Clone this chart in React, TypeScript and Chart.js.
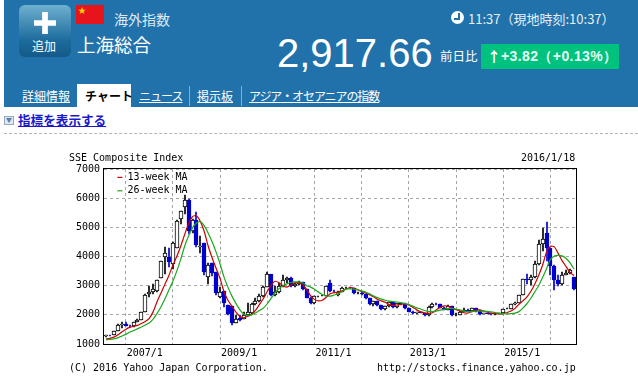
import React, { useEffect, useRef } from "react";
import { Chart, registerables } from "chart.js";

Chart.register(...registerables);

// Monthly candles, 2006/2 .. 2016/1
const opens = [
  1258, 1299, 1298, 1440, 1642, 1672, 1612, 1601, 1752, 1837, 2099,
  2700, 2790, 2820, 3250, 3970, 4000, 3750, 4300, 5300, 5700, 5954, 4871,
  5265, 4320, 4450, 3300, 3770, 3460, 2620, 2820, 2330, 2293, 1720, 1880,
  1860, 1990, 2050, 2373, 2477, 2632, 2959, 3412, 2667, 2779, 2996, 3195,
  3277, 2989, 3051, 3109, 2870, 2592, 2398, 2637, 2638, 2655, 3100, 2820,
  2680, 2790, 2905, 2928, 2911, 2743, 2762, 2701, 2567, 2359, 2468, 2333,
  2199, 2292, 2428, 2262, 2396, 2372, 2225, 2103, 2047, 2086, 2068, 1980,
  2269, 2385, 2359, 2236, 2177, 2300, 1979, 1993, 2098, 2174, 2141, 2220,
  2116, 2033, 2056, 2033, 2026, 2039, 2048, 2201, 2217, 2363, 2420, 2682,
  3234, 3210, 3310, 3747, 4441, 4800, 4277, 3663, 3205, 3052, 3382, 3445, 3290,
];
const highs = [
  1306, 1320, 1445, 1693, 1757, 1758, 1660, 1762, 1841, 2100, 2698,
  2995, 3050, 3190, 3850, 4335, 4300, 4490, 5260, 5570, 6124, 5955, 5300,
  5522, 4695, 4473, 3786, 3786, 3460, 2952, 2830, 2333, 2300, 2010, 2000,
  2090, 2400, 2400, 2580, 2700, 2980, 3478, 3200, 2990, 3080, 3360, 3300,
  3300, 3100, 3150, 3130, 2890, 2610, 2650, 2660, 2680, 3000, 3180, 2850,
  2830, 2940, 2960, 2960, 2920, 2790, 2780, 2720, 2590, 2490, 2490, 2350,
  2320, 2450, 2440, 2420, 2410, 2390, 2240, 2120, 2110, 2100, 2080, 2290,
  2410, 2410, 2380, 2260, 2330, 2320, 2060, 2120, 2240, 2200, 2240, 2240,
  2150, 2080, 2070, 2050, 2050, 2060, 2210, 2230, 2380, 2440, 2690, 3240,
  3410, 3370, 3840, 4570, 4980, 5178, 4300, 3720, 3370, 3480, 3530, 3560, 3300,
];
const lows = [
  1236, 1259, 1295, 1440, 1541, 1605, 1580, 1598, 1745, 1820, 2099,
  2615, 2700, 2800, 3250, 3400, 3650, 3560, 4300, 5100, 5462, 4778, 4812,
  4330, 4123, 3357, 3060, 3333, 2695, 2566, 2284, 1990, 1665, 1720, 1800,
  1850, 1960, 2040, 2340, 2450, 2620, 2950, 2640, 2640, 2740, 2960, 3080,
  2960, 2970, 3030, 2860, 2580, 2380, 2380, 2620, 2630, 2640, 2780, 2780,
  2660, 2770, 2890, 2890, 2720, 2720, 2690, 2530, 2330, 2320, 2310, 2170,
  2170, 2270, 2250, 2250, 2350, 2210, 2090, 2030, 2030, 2050, 1960, 1960,
  2250, 2340, 2220, 2160, 2150, 1960, 1960, 1980, 2090, 2120, 2120, 2090,
  2000, 2020, 2020, 2010, 2010, 2030, 2040, 2190, 2200, 2350, 2400, 2670,
  3060, 3040, 3280, 3720, 4190, 3850, 3370, 2850, 2980, 3040, 3360, 3410, 2860,
];
const closes = [
  1299, 1298, 1440, 1642, 1672, 1612, 1601, 1752, 1837, 2099, 2675,
  2786, 2881, 3183, 3841, 4109, 3820, 4471, 5218, 5552, 5954, 4871, 5261,
  4383, 4348, 3472, 3693, 3433, 2736, 2775, 2397, 2030, 1728, 1871, 1820,
  1990, 2082, 2373, 2477, 2632, 2959, 3412, 2667, 2779, 2996, 3195, 3277,
  2989, 3051, 3109, 2870, 2592, 2398, 2637, 2638, 2655, 2979, 2820, 2808,
  2790, 2905, 2928, 2911, 2743, 2762, 2701, 2567, 2359, 2468, 2333, 2199,
  2292, 2428, 2262, 2396, 2372, 2225, 2103, 2047, 2086, 2068, 1980, 2269,
  2385, 2359, 2236, 2177, 2300, 1979, 1993, 2098, 2174, 2141, 2220, 2116,
  2033, 2056, 2033, 2026, 2039, 2048, 2201, 2217, 2363, 2420, 2682, 3234,
  3210, 3310, 3747, 4441, 4611, 4277, 3663, 3205, 3052, 3382, 3445, 3539, 2900,
];
const ma13 = [
  1170, 1195, 1235, 1310, 1410, 1500, 1570, 1610, 1640, 1700, 1770,
  1880, 2110, 2450, 2750, 3050, 3350, 3700, 4000, 4350, 4750, 5120, 5370,
  5400, 5200, 4850, 4350, 3950, 3600, 3250, 2800, 2500, 2300, 2100, 1950,
  1900, 1950, 2000, 2150, 2350, 2550, 2800, 3020, 3150, 3100, 3000, 2950,
  3020, 3100, 3090, 3030, 2870, 2660, 2530, 2480, 2500, 2600, 2720, 2760,
  2780, 2820, 2880, 2930, 2920, 2860, 2800, 2750, 2690, 2620, 2530, 2480,
  2430, 2350, 2320, 2340, 2370, 2370, 2340, 2260, 2170, 2100, 2070, 2050,
  2070, 2170, 2260, 2310, 2290, 2230, 2180, 2130, 2070, 2060, 2110, 2160,
  2170, 2130, 2090, 2050, 2040, 2035, 2040, 2080, 2130, 2220, 2360, 2480,
  2610, 2800, 3050, 3350, 3700, 4150, 4350, 4330, 4100, 3850, 3650, 3450, 3350,
];
const ma26 = [
  1150, 1160, 1175, 1210, 1270, 1330, 1400, 1460, 1520, 1580, 1650,
  1720, 1850, 2050, 2280, 2550, 2850, 3150, 3500, 3900, 4350, 4700, 4980,
  5150, 5200, 5050, 4800, 4500, 4150, 3750, 3300, 2950, 2650, 2400, 2180,
  2030, 1980, 2000, 2060, 2150, 2230, 2380, 2570, 2750, 2900, 3000, 3060,
  3110, 3130, 3130, 3100, 3000, 2950, 2880, 2780, 2700, 2650, 2640, 2680,
  2720, 2800, 2880, 2900, 2880, 2860, 2820, 2780, 2720, 2650, 2590, 2540,
  2500, 2470, 2450, 2440, 2420, 2390, 2350, 2300, 2240, 2200, 2150, 2110,
  2110, 2130, 2160, 2190, 2210, 2220, 2200, 2170, 2130, 2110, 2110, 2130,
  2130, 2130, 2120, 2100, 2080, 2050, 2040, 2030, 2040, 2060, 2110, 2230,
  2380, 2560, 2780, 3000, 3280, 3580, 3900, 4020, 4040, 4020, 3930, 3780, 3570,
];
const januaryPositions = [11, 23, 35, 47, 59, 71, 83, 95, 107];
const januaryLabels = ["2007/1", "", "2009/1", "", "2011/1", "", "2013/1", "", "2015/1"];
const priceTicks = [1000, 2000, 3000, 4000, 5000, 6000, 7000];

const MONO = '"DejaVu Sans Mono", monospace';
const JP = '"Noto Sans CJK JP", sans-serif';
const BLUE = "#0000cc";
const BAR = "#2172ab";

const frame = {
  id: "frame",
  afterLayout(chart: any) {
    // keep the legend inside the plot, near its top-left corner
    const lg = chart.legend;
    const dy = chart.chartArea.top;
    const dx = 10;
    lg.top = dy;
    lg.left = chart.chartArea.left + dx;
    if (lg.legendHitBoxes) {
      lg.legendHitBoxes.forEach((b: any) => {
        b.top += dy;
      });
    }
  },
  afterDatasetsUpdate(chart: any) {
    // snap candle rectangles to whole pixels so they stay crisp
    chart.data.datasets.forEach((d: any, i: number) => {
      if (d.type === "line") return;
      chart.getDatasetMeta(i).data.forEach((el: any) => {
        el.x = Math.round(el.x);
        el.y = Math.round(el.y);
        el.base = Math.round(el.base);
      });
    });
  },
  afterDatasetsDraw(chart: any) {
    const { left, top, width, height } = chart.chartArea;
    const c = chart.ctx;
    c.save();
    c.strokeStyle = "#000";
    c.lineWidth = 1;
    c.strokeRect(Math.round(left) - 0.5, Math.round(top) - 0.5, Math.round(width) + 1, Math.round(height) + 1);
    c.restore();
  },
};

function ChartCanvas() {
  const ref = useRef<HTMLCanvasElement>(null);
  useEffect(() => {
    const up = closes.map((c, i) => c >= opens[i]);
    const chart = new Chart(ref.current!, {
      type: "bar",
      data: {
        datasets: [
          {
            type: "line",
            label: "13-week MA",
            data: ma13.map((y, x) => ({ x, y })),
            borderColor: "#cc0000",
            backgroundColor: "#cc0000",
            borderWidth: 1.2,
            pointRadius: 0,
            tension: 0.2,
            order: 1,
          },
          {
            type: "line",
            label: "26-week MA",
            data: ma26.map((y, x) => ({ x, y })),
            borderColor: "#1ca81c",
            backgroundColor: "#1ca81c",
            borderWidth: 1.2,
            pointRadius: 0,
            tension: 0.2,
            order: 0,
          },
          {
            label: "body",
            data: opens.map((o, x) => ({ x, y: [o, closes[x]] })),
            backgroundColor: up.map((u) => (u ? "#ffffff" : BLUE)),
            borderColor: up.map((u) => (u ? "#000000" : BLUE)),
            borderWidth: 1,
            borderSkipped: false,
            barThickness: 4,
            grouped: false,
            order: 2,
          },
          {
            label: "wick",
            data: lows.map((l, x) => ({ x, y: [l, highs[x]] })),
            backgroundColor: up.map((u) => (u ? "#000000" : BLUE)),
            borderWidth: 0,
            barThickness: 1,
            grouped: false,
            order: 3,
          },
        ] as any,
      },
      options: {
        responsive: false,
        animation: false,
        layout: { padding: { left: 60, right: 62, top: 29, bottom: 0 } },
        plugins: {
          title: { display: false },
          tooltip: { enabled: false },
          legend: {
            position: "chartArea" as any,
            align: "start",
            labels: {
              filter: (item: any) => item.text.includes("MA"),
              sort: (a: any, b: any) => a.datasetIndex - b.datasetIndex,
              usePointStyle: true,
              pointStyle: "line",
              pointStyleWidth: 5,
              boxHeight: 3,
              padding: 3.4,
              color: "#000",
              font: { family: MONO, size: 10 },
            },
          },
        },
        scales: {
          x: {
            type: "linear",
            min: -0.5,
            max: 119.5,
            offset: false,
            afterBuildTicks: (s: any) => {
              s.ticks = januaryPositions.map((value) => ({ value }));
            },
            afterFit: (s: any) => {
              s.height = 32;
            },
            grid: { color: "#a6a6a6", tickLength: 0, drawTicks: false },
            border: { display: false, dash: [3, 3] },
            ticks: {
              autoSkip: false,
              maxRotation: 0,
              padding: 3,
              labelOffset: -4.5,
              color: "#000",
              font: { family: MONO, size: 10 },
              callback: (v: any) => januaryLabels[januaryPositions.indexOf(v)] ?? "",
            },
          },
          y: {
            min: 1000,
            max: 7000,
            afterBuildTicks: (s: any) => {
              s.ticks = priceTicks.map((value) => ({ value }));
            },
            afterFit: (s: any) => {
              s.width = 44;
            },
            grid: { color: "#a6a6a6", drawTicks: false },
            border: { display: false, dash: [3, 3] },
            ticks: {
              padding: 4,
              color: "#000",
              font: { family: MONO, size: 10 },
              callback: (v: any) => String(v),
            },
          },
        },
      } as any,
      plugins: [frame],
    });
    return () => chart.destroy();
  }, []);
  return (
    <canvas
      ref={ref}
      width={638}
      height={236}
      style={{ position: "absolute", left: 0, top: 140, width: 638, height: 236 }}
    />
  );
}

const abs = (left: number, top: number, extra: React.CSSProperties = {}): React.CSSProperties => ({
  position: "absolute",
  left,
  top,
  whiteSpace: "nowrap",
  ...extra,
});

const tabLink: React.CSSProperties = {
  color: "#fff",
  fontSize: 12,
  lineHeight: "16px",
  textDecoration: "underline",
  fontFamily: JP,
};

export default function App() {
  return (
    <div
      style={{
        position: "fixed",
        left: 0,
        top: 0,
        width: 638,
        height: 376,
        background: "#fff",
        overflow: "hidden",
        fontFamily: JP,
      }}
    >
      <div style={abs(4, 0, { width: 634, height: 107, background: BAR })} />
      {/* add button */}
      <div
        style={abs(19, 5, {
          width: 52,
          height: 52,
          borderRadius: 6,
          background: "linear-gradient(#6fb0cf, #1a6a9c 70%, #145a88)",
        })}
      />
      <div style={abs(34, 12, { width: 22, height: 22, background: "#fff", clipPath: "polygon(37% 0,63% 0,63% 37%,100% 37%,100% 63%,63% 63%,63% 100%,37% 100%,37% 63%,0 63%,0 37%,37% 37%)" })} />
      <div style={abs(32, 38, { color: "#fff", fontSize: 12, lineHeight: "16px" })}>追加</div>
      {/* flag */}
      <div style={abs(76, 5, { width: 28, height: 19, background: "#e8141c" })} />
      <div style={abs(78, 5, { color: "#ffd800", fontSize: 8, lineHeight: "10px" })}>★</div>
      <div style={abs(114, 9, { color: "#dfeaf3", fontSize: 14, lineHeight: "20px" })}>海外指数</div>
      <div style={abs(77, 31, { color: "#fff", fontSize: 18.5, lineHeight: "26px" })}>上海総合</div>
      <div style={abs(277, 30, { color: "#fff", fontSize: 40, lineHeight: "46px", fontFamily: '"Liberation Sans", sans-serif' })}>2,917.66</div>
      <div style={abs(440, 47, { color: "#fff", fontSize: 12.5, lineHeight: "18px" })}>前日比</div>
      <div style={abs(481, 44, { width: 138, height: 25, background: "#00c27f" })} />
      <div style={abs(487, 47, { color: "#fff", fontSize: 14, lineHeight: "19px", fontWeight: 700 })}>↑</div>
      <div style={abs(501, 47, { color: "#e8fff4", fontSize: 14, lineHeight: "19px", fontWeight: 700, letterSpacing: 0.4, fontFamily: '"Liberation Sans", sans-serif' })}>+3.82（+0.13%）</div>
      {/* clock */}
      <div style={abs(451, 11, { width: 13, height: 13, borderRadius: 7, background: "#fff" })} />
      <div style={abs(454, 13, { width: 4, height: 5, borderRight: "2px solid " + BAR, borderBottom: "2px solid " + BAR })} />
      <div style={abs(468, 9, { color: "#e6eff6", fontSize: 13, lineHeight: "20px", fontFamily: JP })}>11:37（現地時刻:10:37）</div>
      {/* tabs */}
      <div style={abs(22, 88, tabLink)}>詳細情報</div>
      <div style={abs(77, 84, { width: 54, height: 23, background: "#fff" })} />
      <div style={abs(85, 88, { ...tabLink, color: "#000", fontWeight: 700, textDecoration: "none" })}>チャート</div>
      <div style={abs(139, 88, { ...tabLink, letterSpacing: -1 })}>ニュース</div>
      <div style={abs(197, 88, tabLink)}>掲示板</div>
      <div style={abs(249, 88, { ...tabLink, letterSpacing: -1.1 })}>アジア・オセアニアの指数</div>
      <div style={abs(189, 86, { width: 1, height: 20, background: "#7fb0d2" })} />
      <div style={abs(241, 86, { width: 1, height: 20, background: "#7fb0d2" })} />
      {/* indicator link */}
      <div style={abs(4, 116, { width: 10, height: 9, border: "1px solid #9ab", background: "#dde8f4", boxSizing: "border-box" })} />
      <div style={abs(6, 118, { width: 6, height: 5, background: "#5a7fa8", clipPath: "polygon(0 0,100% 0,50% 100%)" })} />
      <div style={abs(18, 111, { color: "#1a1acc", fontSize: 12.6, lineHeight: "18px", fontWeight: 700, textDecoration: "underline" })}>指標を表示する</div>
      <div style={abs(4, 133, { width: 634, height: 0, borderTop: "1px dashed #b5b5b5" })} />
      <ChartCanvas />
      {/* chart captions */}
      <div style={abs(69, 152, { font: "10px/12px " + MONO, color: "#000" })}>SSE Composite Index</div>
      <div style={abs(521, 152, { font: "10px/12px " + MONO, color: "#000" })}>2016/1/18</div>
      <div style={abs(69, 362, { font: "10px/12px " + MONO, color: "#000" })}>(C) 2016 Yahoo Japan Corporation.</div>
      <div style={abs(377, 362, { font: "10px/12px " + MONO, color: "#000" })}>http://stocks.finance.yahoo.co.jp</div>
    </div>
  );
}
